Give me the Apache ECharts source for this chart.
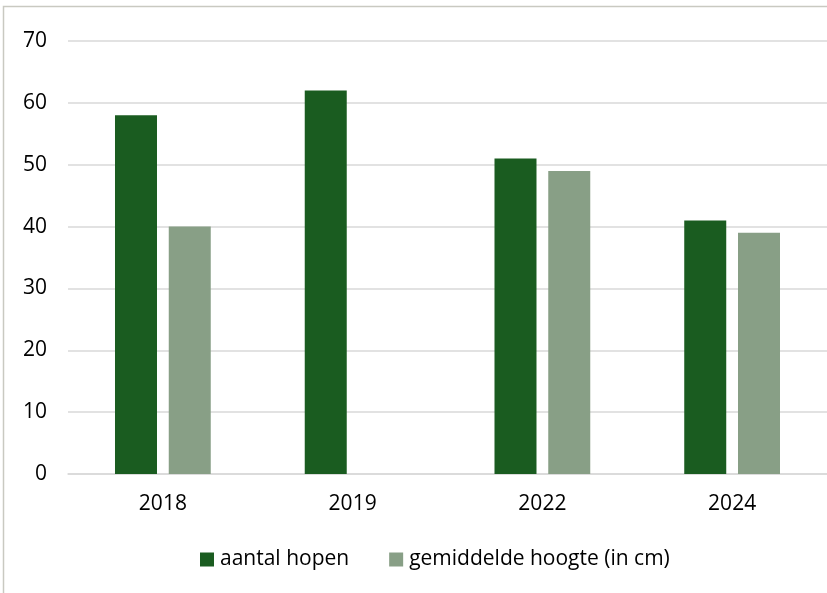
<!DOCTYPE html>
<html>
<head>
<meta charset="utf-8">
<script src="https://cdn.jsdelivr.net/npm/echarts@6/dist/echarts.min.js"></script>
<style>
html,body{margin:0;padding:0;background:#fff;}
#main{width:827px;height:593px;}
</style>
</head>
<body>
<div id="main"></div>
<script>
const categories = ['2018', '2019', '2022', '2024'];
const aantalHopen = [58, 62, 51, 41];
const gemiddeldeHoogte = [40, null, 49, 39];
const seriesNames = ['aantal hopen', 'gemiddelde hoogte (in cm)'];
const yTicks = { min: 0, max: 70, interval: 10 };

const chart = echarts.init(document.getElementById('main'), null, { renderer: 'canvas' });
const font = '"Open Sans", Lato, sans-serif';
chart.setOption({
  animation: false,
  backgroundColor: '#ffffff',
  graphic: [{
    type: 'rect',
    shape: { x: 3.5, y: 6.5, width: 900, height: 700 },
    style: { fill: 'none', stroke: '#c9c9c1', lineWidth: 1.5 },
    silent: true
  }],
  grid: { left: 68, top: 41, width: 763, height: 433, containLabel: false },
  legend: {
    data: seriesNames,
    left: 200,
    top: 549,
    padding: 0,
    itemWidth: 14,
    itemHeight: 14,
    itemGap: 40,
    icon: 'rect',
    textStyle: { fontFamily: font, fontSize: 21, color: '#000', padding: [0, 0, 0, 1] }
  },
  xAxis: {
    type: 'category',
    data: categories,
    axisLine: { show: true, lineStyle: { color: '#d9d9d9', width: 1.5 } },
    axisTick: { show: false },
    axisLabel: { fontFamily: font, fontSize: 21, color: '#000', margin: 20 }
  },
  yAxis: {
    type: 'value',
    min: yTicks.min,
    max: yTicks.max,
    interval: yTicks.interval,
    axisLine: { show: false },
    axisTick: { show: false },
    splitLine: { lineStyle: { color: '#d9d9d9', width: 1.5 } },
    axisLabel: { fontFamily: font, fontSize: 21, color: '#000', margin: 21 }
  },
  series: [
    {
      name: seriesNames[0],
      type: 'bar',
      data: aantalHopen,
      barWidth: 42,
      barGap: '28%',
      itemStyle: { color: '#1a5c20' }
    },
    {
      name: seriesNames[1],
      type: 'bar',
      data: gemiddeldeHoogte,
      barWidth: 42,
      barGap: '28%',
      itemStyle: { color: '#889f86' }
    }
  ]
});
</script>
</body>
</html>
